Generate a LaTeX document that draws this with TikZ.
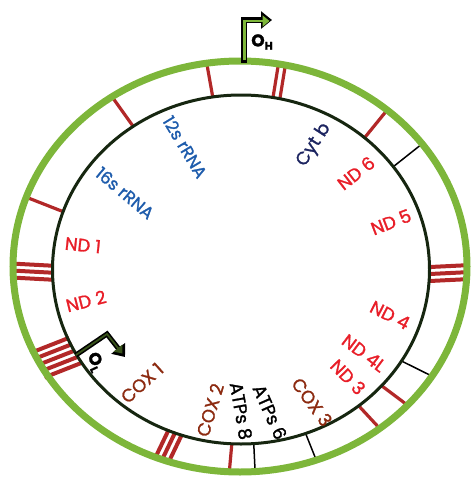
\documentclass[tikz,border=0pt]{standalone}
\usepackage{fontspec}
\setmainfont{Poppins}[FakeBold=1.4]
\usetikzlibrary{arrows.meta, calc}

\definecolor{ringgreen}{RGB}{125,182,58}
\definecolor{innerline}{RGB}{22,38,16}
\definecolor{tickred}{RGB}{178,40,40}
\definecolor{ndred}{RGB}{232,30,40}
\definecolor{rrnablue}{RGB}{30,92,172}
\definecolor{cytnavy}{RGB}{28,36,96}
\definecolor{coxbrown}{RGB}{140,42,16}

% radial bar(s) across the band: angle, number of bars, colour, width
\newcommand\genemark[4]{%
  \foreach \k in {1,...,#2}{
    \pgfmathsetmacro\off{(\k-(#2+1)/2)*7}
    \pgfmathsetmacro\rin{174.5/sqrt((0.9257*cos(#1))^2+(sin(#1))^2)-1}
    \pgfmathsetmacro\rout{205.5/sqrt((0.9053*cos(#1))^2+(sin(#1))^2)+2}
    \draw[#3, line width=#4]
      ({241+\rin*cos(#1)+\off*sin(#1)}, {269.5-\rin*sin(#1)+\off*cos(#1)}) --
      ({240+\rout*cos(#1)+\off*sin(#1)}, {266.5-\rout*sin(#1)+\off*cos(#1)});
  }}

\begin{document}
\begin{tikzpicture}[x=1pt, y=-1pt, font=\fontsize{18}{21}\selectfont,
  gene/.style={inner sep=1pt, anchor=center},
  nd/.style={gene, text=ndred},
  cox/.style={gene, text=coxbrown},
  rrna/.style={gene, text=rrnablue, font=\fontsize{17}{20}\selectfont},
  atp/.style={gene, text=black},
  ori/.style={gene, text=black, font=\fontsize{17}{20}\selectfont\bfseries},
  shadowline/.style={line width=6pt, draw=black, -{Triangle[length=11pt, width=17pt]}},
  originline/.style={line width=2.5pt, draw=ringgreen, -{Triangle[length=7pt, width=11pt]}}]
  \useasboundingbox (0,0) rectangle (472,477);

  % bars first, rings on top
  \genemark{99.3}{1}{tickred}{3.2pt}
  \genemark{127}{1}{tickred}{3.2pt}
  \genemark{162}{1}{tickred}{3.2pt}
  \genemark{181}{3}{tickred}{4pt}
  \genemark{206}{5}{tickred}{4pt}
  \genemark{248}{3}{tickred}{4pt}
  \genemark{267}{1}{tickred}{3.2pt}
  \genemark{274.2}{1}{black}{1.5pt}
  \genemark{291.5}{1}{black}{1.5pt}
  \genemark{310.8}{1}{tickred}{3.2pt}
  \genemark{320.4}{1}{tickred}{3.2pt}
  \genemark{330.3}{1}{black}{1.5pt}
  \genemark{358.6}{3}{tickred}{4pt}
  \genemark{34}{1}{black}{1.5pt}
  \genemark{46.8}{1}{tickred}{3.2pt}
  \genemark{78.3}{2}{tickred}{3.2pt}

  \draw[innerline, line width=3pt] (241,269.5) ellipse [x radius=188.5pt, y radius=174.5pt];
  \draw[ringgreen, line width=7pt] (240,266.5) ellipse [x radius=227pt, y radius=205.5pt];

  % heavy strand origin
  \coordinate (ohbase) at (243.5,63);
  \coordinate (ohturn) at (243.5,20);
  \coordinate (ohtip) at (272,20);
  \draw[shadowline] (ohbase) -- (ohturn) -- (ohtip);
  \draw[originline] ($(ohbase)+(1,-3)$) -- ($(ohturn)+(1,1)$) -- ($(ohtip)+(-2.5,1)$);
  \node[ori] (oh) at (262,42) {O\raisebox{-0.35ex}{\fontsize{11}{12}\selectfont H}};

  % light strand origin
  \coordinate (olbase) at (76,355);
  \coordinate (olturn) at (107,334);
  \coordinate (oltip) at (125,357);
  \draw[shadowline, line width=5pt] (olbase) -- (olturn) -- (oltip);
  \draw[originline, draw=ringgreen!45!black, line width=1.8pt] (olbase) -- (olturn) -- ($(olturn)!0.85!(oltip)$);
  \node[ori, rotate=-65] (ol) at (95,362) {O\raisebox{-0.35ex}{\fontsize{11}{12}\selectfont L}};

  \node[rrna, rotate=-59] (rrna12) at (185,147) {12s rRNA};
  \node[rrna, rotate=-40] (rrna16) at (125,193) {16s rRNA};
  \node[gene, text=cytnavy, rotate=57] (cytb) at (314,145) {Cyt b};
  \node[nd, rotate=38] (nd6) at (356,173) {ND 6};
  \node[nd, rotate=21] (nd5) at (391,222) {ND 5};
  \node[nd, rotate=-27] (nd4) at (390,315) {ND 4};
  \node[nd, rotate=-37] (nd4l) at (364,353) {ND 4L};
  \node[nd, rotate=-46] (nd3) at (348,377) {ND 3};
  \node[cox, rotate=-54] (cox3) at (312,402) {COX 3};
  \node[atp, rotate=-66] (atp6) at (270,412) {ATPs 6};
  \node[atp, rotate=-80] (atp8) at (241,411) {ATPs 8};
  \node[cox, rotate=73] (cox2) at (210,410) {COX 2};
  \node[cox, rotate=42] (cox1) at (142,383) {COX 1};
  \node[nd, rotate=14] (nd2) at (86,301) {ND 2};
  \node[nd, rotate=-6] (nd1) at (83,245) {ND 1};
\end{tikzpicture}
\end{document}
